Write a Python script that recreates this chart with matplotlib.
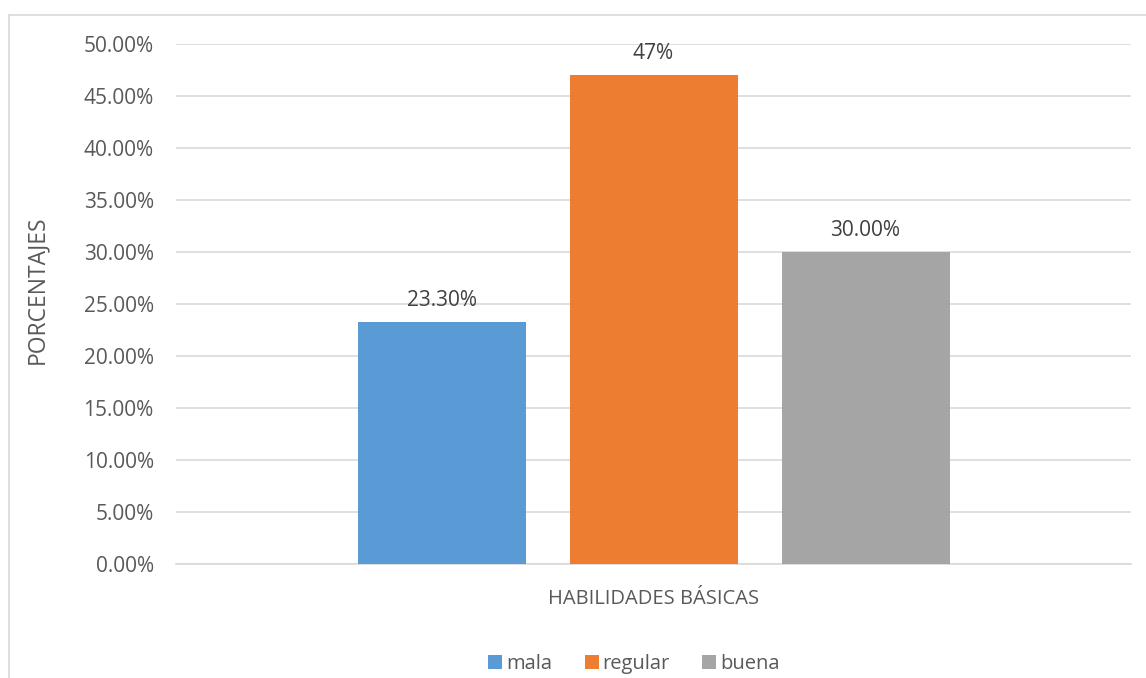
import matplotlib
matplotlib.use("Agg")
import matplotlib.pyplot as plt
from matplotlib.lines import Line2D
from matplotlib.ticker import FuncFormatter, MultipleLocator

categories = ["mala", "regular", "buena"]
values = [0.233, 0.47, 0.30]
value_labels = ["23.30%", "47%", "30.00%"]
colors = ["#5b9bd5", "#ed7d31", "#a5a5a5"]
group_label = "HABILIDADES BÁSICAS"

plt.rcParams["font.family"] = ["Open Sans", "DejaVu Sans"]
text_color = "#595959"

fig = plt.figure(figsize=(11.46, 6.78), dpi=100)
ax = fig.add_axes([176 / 1146, 1 - 564 / 678, (1131 - 176) / 1146, (564 - 44) / 678])

# chart border (top and left visible)
fig.add_artist(Line2D([8.5 / 1146, 1], [1 - 14.5 / 678] * 2, color="#d9d9d9", lw=1.2))
fig.add_artist(Line2D([8.5 / 1146] * 2, [0, 1 - 14.5 / 678], color="#d9d9d9", lw=1.2))

width = 168 / 955
offsets = [-0.2215, 0.0, 0.222]
for off, v, c, name, lab in zip(offsets, values, colors, categories, value_labels):
    ax.bar(off, v, width=width, color=c, label=name, zorder=3)
    ax.annotate(lab, (off, v), xytext=(0, 8), textcoords="offset points",
                ha="center", va="bottom", fontsize=15, color="#404040")

ax.set_xlim(-0.5, 0.5)
ax.set_ylim(0, 0.5)
ax.yaxis.set_major_locator(MultipleLocator(0.05))
ax.yaxis.set_major_formatter(FuncFormatter(lambda y, p: f"{y * 100:.2f}%"))
ax.grid(axis="y", color="#d9d9d9", lw=1.2, zorder=0)
for s in ["top", "right", "left"]:
    ax.spines[s].set_visible(False)
ax.spines["bottom"].set_color("#d9d9d9")
ax.spines["bottom"].set_linewidth(1.2)
ax.tick_params(axis="y", length=0, pad=16, labelsize=15, labelcolor=text_color)
ax.set_xticks([0])
ax.set_xticklabels([group_label])
ax.tick_params(axis="x", length=0, pad=18, labelsize=14.5, labelcolor=text_color)
ax.set_ylabel("PORCENTAJES", fontsize=16.5, color=text_color, labelpad=25)
ax.yaxis.label.set_y(0.527)

leg = fig.legend(loc="center", bbox_to_anchor=(634 / 1146, 1 - 664 / 678), ncol=3,
                 frameon=False, fontsize=14.5, handlelength=0.7, handleheight=0.7,
                 handletextpad=0.2, columnspacing=1.6)
for t in leg.get_texts():
    t.set_color(text_color)

fig.savefig("out.png", dpi=100)
